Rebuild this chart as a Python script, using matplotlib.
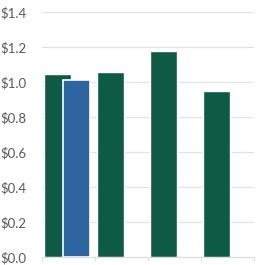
import matplotlib.pyplot as plt
import numpy as np

categories = ["A", "B", "C", "D"]
green_vals = [1.045, 1.055, 1.18, 0.95]
blue_vals = [1.01, None, None, None]
yticks = [0.0, 0.2, 0.4, 0.6, 0.8, 1.0, 1.2, 1.4]

plt.rcParams['font.family'] = ['Lato', 'DejaVu Sans']

fig = plt.figure(figsize=(2.56, 2.65), dpi=100)
ax = fig.add_axes([42/256, 8/265, 212/256, 245/265])

x = np.arange(len(categories))
ax.bar(x - 0.21, green_vals, width=0.5, color='#0e5a45', edgecolor='white', linewidth=1, zorder=2)
bx = [i for i, v in enumerate(blue_vals) if v is not None]
bv = [v for v in blue_vals if v is not None]
ax.bar(np.array(bx) + 0.15, bv, width=0.52, color='#2d65a0', edgecolor='white', linewidth=1.2, zorder=3)

ax.set_xlim(-0.5, 3.5)
ax.set_ylim(0, 1.4)
ax.set_yticks(yticks)
ax.set_yticklabels(["$%.1f" % v for v in yticks], fontsize=9.5, color='#5a5a5a')
ax.grid(axis='y', color='#e2e2e2', linewidth=0.9, zorder=0)
ax.set_xticks([-0.5, 0.5, 1.5, 2.5, 3.5])
ax.set_xticklabels([])
ax.tick_params(axis='x', length=3, color='#dddddd')
ax.tick_params(axis='y', length=0, pad=11)
for s in ['top', 'right', 'left']:
    ax.spines[s].set_visible(False)
ax.spines['bottom'].set_color('#dddddd')

fig.savefig('out.png', dpi=100)
